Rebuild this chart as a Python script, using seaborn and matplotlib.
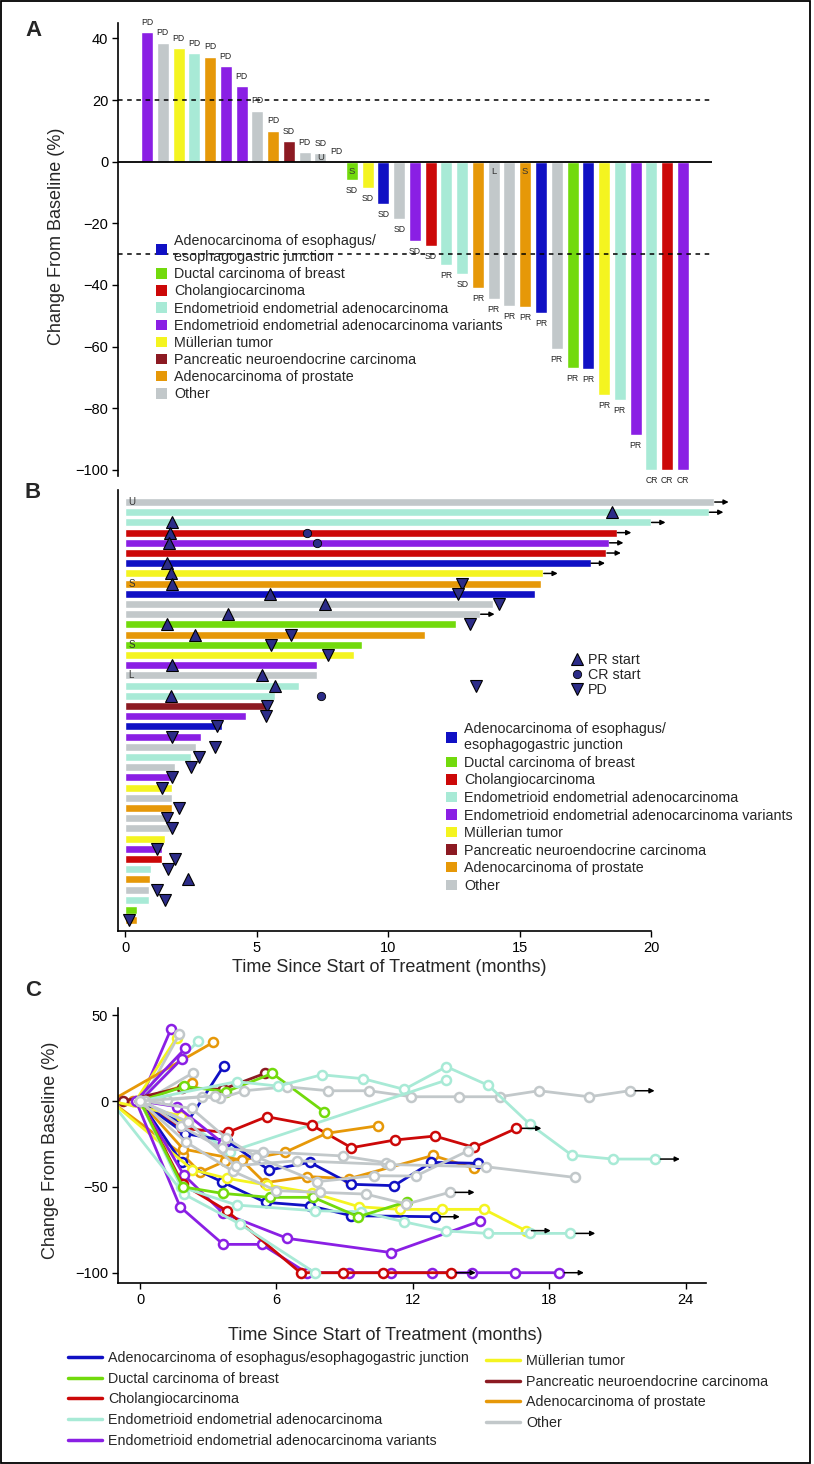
import pandas as pd
import seaborn as sns
import matplotlib.pyplot as plt
from matplotlib.patches import Patch, Rectangle
from matplotlib.lines import Line2D

sns.set_theme(style='white')
plt.rcParams['font.family'] = ['Liberation Sans', 'DejaVu Sans']

# tumour types (codes, names, colours)
cancer_codes = ['B', 'G', 'R', 'T', 'P', 'Y', 'D', 'O', 'X']
cancer_names = ['Adenocarcinoma of esophagus/esophagogastric junction',
                'Ductal carcinoma of breast',
                'Cholangiocarcinoma',
                'Endometrioid endometrial adenocarcinoma',
                'Endometrioid endometrial adenocarcinoma variants',
                'Müllerian tumor',
                'Pancreatic neuroendocrine carcinoma',
                'Adenocarcinoma of prostate',
                'Other']
cancer_colors = ['#1010c4', '#72da0c', '#cc0808', '#a8ead6', '#8a1fe4',
                 '#f4f420', '#8c1a22', '#e69808', '#c2c8ca']
pal = dict(zip(cancer_codes, cancer_colors))

# ---- panel A : waterfall
wf_type = ['P', 'X', 'Y', 'T', 'O', 'P', 'P', 'X', 'O', 'D', 'X', 'X', 'X',
           'G', 'Y', 'B', 'X', 'P', 'R', 'T', 'T', 'O', 'X', 'X', 'O', 'B',
           'X', 'G', 'B', 'Y', 'T', 'P', 'T', 'R', 'P']
wf_change = [42.0, 38.6, 36.9, 35.2, 34.1, 31.0, 24.5, 16.6, 10.1, 6.6, 3.1,
             2.8, 0.0, -6.0, -8.7, -13.6, -18.6, -25.7, -27.3, -33.4, -36.4,
             -41.1, -44.5, -46.7, -47.3, -49.2, -60.8, -67.0, -67.3, -75.8,
             -77.2, -88.8, -100, -100, -100]
wf_resp = ['PD'] * 9 + ['SD', 'PD', 'SD', 'PD'] + ['SD'] * 6 + \
          ['PR', 'SD'] + ['PR'] * 11 + ['CR'] * 3
wf_tag_pos = [11, 13, 22, 24]
wf_tag = ['U', 'S', 'L', 'S']

# ---- panel B : swimmer
sw_type = ['X', 'T', 'T', 'R', 'P', 'R', 'B', 'Y', 'O', 'B', 'X', 'X', 'G',
           'O', 'G', 'Y', 'P', 'X', 'T', 'T', 'D', 'P', 'B', 'P', 'X', 'T',
           'X', 'P', 'Y', 'X', 'O', 'X', 'X', 'Y', 'P', 'R', 'T', 'O', 'X',
           'T', 'G', 'O']
sw_months = [22.4, 22.2, 20.0, 18.7, 18.4, 18.3, 17.7, 15.9, 15.8, 15.6, 14.0,
             13.5, 12.6, 11.4, 9.0, 8.7, 7.3, 7.3, 6.6, 5.7, 5.4, 4.6, 3.7,
             2.9, 2.7, 2.5, 1.9, 1.8, 1.8, 1.8, 1.8, 1.7, 1.7, 1.5, 1.4, 1.4,
             1.0, 0.95, 0.9, 0.9, 0.45, 0.45]
sw_arrow_rows = [0, 1, 2, 3, 4, 5, 6, 7, 11]
sw_tag_rows = [0, 8, 14, 17]
sw_tag = ['U', 'S', 'S', 'L']
pr_rows = [1, 2, 3, 4, 6, 7, 8, 9, 10, 11, 12, 13, 16, 17, 18, 19, 37]
pr_months = [18.5, 1.8, 1.7, 1.67, 1.6, 1.75, 1.8, 5.5, 7.6, 3.9, 1.6, 2.65,
             1.8, 5.2, 5.7, 1.75, 2.4]
cr_rows = [3, 4, 19]
cr_months = [6.9, 7.3, 7.45]
pd_rows = [8, 9, 10, 12, 13, 14, 15, 18, 20, 21, 22, 23, 24, 25, 26, 27, 28,
           30, 31, 32, 34, 35, 36, 38, 39, 41]
pd_months = [12.8, 12.65, 14.2, 13.1, 6.3, 5.55, 7.7, 13.35, 5.4, 5.35, 3.5,
             1.8, 3.4, 2.8, 2.5, 1.8, 1.4, 2.05, 1.6, 1.8, 1.2, 1.9, 1.65,
             1.2, 1.5, 0.15]

# ---- panel C : spider
sp_type = ['P', 'Y', 'X', 'T', 'O', 'P', 'P', 'X', 'O', 'D', 'B', 'G', 'X',
           'T', 'T', 'R', 'O', 'O', 'B', 'B', 'Y', 'Y', 'P', 'P', 'R', 'T',
           'T', 'G', 'P', 'X', 'X', 'X', 'X', 'X']
sp_t = [
    [0, 1.36], [-0.2, 1.61], [0.1, 1.73], [0, 2.56], [-1.3, 3.22],
    [-0.2, 1.99], [0, 1.83], [0.2, 2.34], [-0.3, 2.27],
    [-0.73, 1.83, 3.63, 5.49],
    [0, 2.0, 3.69],
    [0, 1.95, 3.8, 5.82, 8.09],
    [0.1, 1.2, 2.71, 3.52, 4.59, 6.45, 8.28, 10.08, 11.94, 14.02, 15.83, 17.55, 19.75, 21.54],
    [0, 4.25, 6.08, 7.99, 9.82, 11.62, 13.48, 15.33, 17.14, 18.99, 20.81, 22.65],
    [0, 2.0, 3.96, 13.48],
    [0, 1.83, 3.85, 5.57, 7.55, 9.30, 11.21, 12.97, 14.7, 16.56],
    [-1.3, 1.9, 2.64, 3.74, 4.47, 6.37, 8.21, 10.48],
    [0, 1.9, 4.47, 5.49, 7.36, 9.2, 12.89, 14.69],
    [0, 1.83, 3.59, 5.52, 7.47, 9.3, 12.97],
    [0, 1.98, 3.81, 5.67, 7.47, 9.3, 11.18, 12.82, 14.87],
    [-1.3, 1.79],
    [-1.3, 2.3, 3.81, 5.57, 7.55, 9.64, 11.43, 13.3, 15.14, 16.97],
    [0, 1.93, 3.66, 6.48, 11.06, 14.97],
    [-0.18, 1.76, 3.66, 5.35, 7.33, 9.2, 11.03, 12.86, 14.62, 16.51, 18.43],
    [0, 1.88, 3.81, 7.06, 8.94, 10.7, 13.67],
    [-1.3, 1.93, 4.4, 7.69],
    [0, 1.8, 4.25, 7.69, 9.74, 11.6, 13.48, 15.31, 17.14, 18.93],
    [0, 1.88, 3.63, 5.71, 7.62, 9.6, 11.75],
    [0, 1.64, 3.66],
    [0.2, 1.8, 3.6, 5.4, 8.94, 10.84],
    [0, 2.0, 4.1, 6.0, 7.91, 9.93, 11.72, 13.62],
    [0.2, 2.27, 3.8, 5.1, 7.77, 10.29, 12.13, 14.43],
    [0, 2.1, 4.2, 6.9, 11.0, 15.24, 19.13],
    [0, 3.3],
]
sp_v = [
    [0, 41.9], [0, 36.9], [0, 38.8], [0, 35.0], [0, 34.2],
    [0, 30.7], [0, 24.5], [0, 16.5], [0, 10.3],
    [0, 7.8, 6.8, 16.1],
    [0, -14.0, 20.6],
    [0, 8.5, 5.5, 16.1, -6.2],
    [0, 0.6, 2.5, 1.5, 6.0, 8.3, 6.0, 6.0, 2.5, 2.5, 2.5, 6.0, 2.5, 6.0],
    [0, 11.3, 8.7, 15.3, 13.0, 6.8, 20.0, 9.1, -13.4, -31.5, -33.8, -33.8],
    [0, -12.0, -29.5, 12.2],
    [0, -15.9, -18.3, -9.1, -14.0, -27.2, -22.7, -20.4, -27.0, -15.9],
    [0, -31.5, -41.5, -35.0, -34.4, -29.9, -18.8, -14.4],
    [0, -28.0, -34.4, -47.6, -44.0, -45.2, -31.7, -39.2],
    [0, -35.7, -47.0, -59.0, -61.0, -66.8, -67.4],
    [0, -19.0, -23.1, -40.2, -35.7, -48.5, -49.3, -35.7, -36.3],
    [0, -8.5],
    [0, -40.0, -45.0, -48.9, -53.4, -61.6, -63.1, -63.1, -63.1, -75.5],
    [0, -43.1, -65.4, -80.0, -88.3, -69.9],
    [0, -61.6, -83.5, -83.5, -100, -100, -100, -100, -100, -100, -100],
    [0, -48.5, -63.9, -100, -100, -100, -100],
    [0, -54.2, -71.7, -100],
    [0, -50.0, -60.6, -63.9, -64.5, -70.3, -75.7, -77.1, -77.1, -77.1],
    [0, -50.0, -53.8, -56.1, -56.1, -67.4, -58.6],
    [0, -3.3, -24.7],
    [0, -14.6, -27.6, -29.5, -32.0, -36.0],
    [0, -23.7, -41.0, -52.2, -53.2, -54.2, -60.0, -53.2],
    [0, -4.3, -21.7, -32.4, -47.0, -43.5, -43.7, -29.0],
    [0, -12.0, -37.7, -34.8, -37.0, -38.3, -44.5],
    [0, 3.1],
]
sp_arrow = [12, 13, 15, 18, 21, 23, 24, 26, 30]

W, H = 814, 1464


def box(x0, y0, x1, y1):
    return [x0 / W, 1 - y1 / H, (x1 - x0) / W, (y1 - y0) / H]


fig = plt.figure(figsize=(W / 100, H / 100), dpi=100)
tick_fs = 10.5
lab_fs = 13
leg_fs = 10.3
navy = '#2c2c88'

# ================= A
axA = fig.add_axes(box(118, 23, 712, 476))
dfA = pd.DataFrame({'pos': range(len(wf_change)), 'change': wf_change, 'type': wf_type})
sns.barplot(data=dfA, x='pos', y='change', hue='type', palette=pal, dodge=False,
            width=0.76, saturation=1, errorbar=None, legend=False, ax=axA)
axA.axhline(0, color='black', lw=1.3)
axA.axhline(20, color='black', lw=1.1, ls=(0, (3, 3)))
axA.axhline(-30, color='black', lw=1.1, ls=(0, (3, 3)))
for i, (v, r) in enumerate(zip(wf_change, wf_resp)):
    y = v + 3.2 if v >= 0 else v - 3.4
    axA.text(i, y, r, ha='center', va='center', fontsize=6.2, color='#222222')
for i, t in zip(wf_tag_pos, wf_tag):
    y = 1.4 if wf_change[i] > 0 else -3.2
    axA.text(i, y, t, ha='center', va='center', fontsize=6.8, color='#333333')
axA.set_xlim(-1.84, 35.85)
axA.set_ylim(-102, 45)
axA.set_yticks(range(-100, 41, 20))
axA.set_xticks([])
axA.set_xlabel('')
axA.set_ylabel('Change From Baseline (%)', fontsize=lab_fs)
axA.yaxis.set_label_coords(-0.09, 0.53)
for s in ['top', 'right', 'bottom']:
    axA.spines[s].set_visible(False)

cat_handles = [Patch(facecolor=c, edgecolor='none') for c in cancer_colors]
cat_labels = ['Adenocarcinoma of esophagus/\nesophagogastric junction'] + cancer_names[1:]
fig.legend(cat_handles, cat_labels, loc='upper left',
           bbox_to_anchor=(156 / W, 1 - 234 / H), frameon=False,
           fontsize=leg_fs, handlelength=0.75, handleheight=0.75,
           handletextpad=0.5, labelspacing=0.22, borderpad=0, borderaxespad=0)

# ================= B
axB = fig.add_axes(box(118, 490, 730, 931))
dfB = pd.DataFrame({'row': range(len(sw_months)), 'months': sw_months, 'type': sw_type})
sns.barplot(data=dfB, x='months', y='row', hue='type', palette=pal, dodge=False,
            orient='y', width=0.78, saturation=1, errorbar=None, legend=False, ax=axB)
for r in sw_arrow_rows:
    axB.annotate('', xy=(sw_months[r] + 0.55, r), xytext=(sw_months[r] + 0.02, r),
                 arrowprops=dict(arrowstyle='-|>', color='black', lw=1.1,
                                 mutation_scale=7, shrinkA=0, shrinkB=0))
for r, t in zip(sw_tag_rows, sw_tag):
    axB.text(0.12, r, t, ha='left', va='center', fontsize=7, color='#333333')
axB.plot(pr_months, pr_rows, ls='none', marker='^', ms=8, color=navy, mec='black', mew=0.8)
axB.plot(cr_months, cr_rows, ls='none', marker='o', ms=6, color=navy, mec='black', mew=0.6)
axB.plot(pd_months, pd_rows, ls='none', marker='v', ms=8, color=navy, mec='black', mew=0.8)
axB.set_xlim(-0.27, 23.0)
axB.set_ylim(42.06, -1.18)
axB.set_yticks([])
axB.set_ylabel('')
axB.set_xticks([0, 5, 10, 15, 20])
axB.spines['bottom'].set_bounds(-0.27, 20)
axB.set_xlabel('Time Since Start of Treatment (months)', fontsize=lab_fs)
axB.xaxis.set_label_coords(0.444, -0.064)
for s in ['top', 'right']:
    axB.spines[s].set_visible(False)

ev_handles = [Line2D([], [], ls='none', marker='^', ms=8, color=navy, mec='black', mew=0.8),
              Line2D([], [], ls='none', marker='o', ms=6, color=navy, mec='black', mew=0.6),
              Line2D([], [], ls='none', marker='v', ms=8, color=navy, mec='black', mew=0.8)]
fig.legend(ev_handles, ['PR start', 'CR start', 'PD'], loc='upper left',
           bbox_to_anchor=(571 / W, 1 - 653 / H), frameon=False, fontsize=leg_fs,
           handlelength=0.9, handletextpad=0.3, labelspacing=0.08, borderpad=0,
           borderaxespad=0)
fig.legend(cat_handles, cat_labels, loc='upper left',
           bbox_to_anchor=(446 / W, 1 - 722 / H), frameon=False,
           fontsize=leg_fs, handlelength=0.75, handleheight=0.75,
           handletextpad=0.5, labelspacing=0.25, borderpad=0, borderaxespad=0)

# ================= C
axC = fig.add_axes(box(118, 1008, 706, 1283))
rows = []
for pid, (tp, ts, vs) in enumerate(zip(sp_type, sp_t, sp_v)):
    for t, v in zip(ts, vs):
        rows.append({'pid': pid, 'type': tp, 't': t, 'v': v})
dfC = pd.DataFrame(rows)
for pid, g in dfC.groupby('pid', sort=False):
    col = pal[g['type'].iloc[0]]
    sns.lineplot(data=g, x='t', y='v', sort=False, estimator=None, color=col,
                 lw=2, marker='o', ms=6.5, mfc='white', mec=col, mew=1.8, ax=axC)
for pid in sp_arrow:
    t, v = sp_t[pid][-1], sp_v[pid][-1]
    axC.annotate('', xy=(t + 1.1, v), xytext=(t + 0.25, v),
                 arrowprops=dict(arrowstyle='-|>', color='black', lw=1.1,
                                 mutation_scale=7, shrinkA=0, shrinkB=0))
axC.set_xlim(-0.97, 24.9)
axC.set_ylim(-106.0, 54.2)
axC.set_xticks([0, 6, 12, 18, 24])
axC.set_yticks([-100, -50, 0, 50])
axC.set_xlabel('Time Since Start of Treatment (months)', fontsize=lab_fs)
axC.xaxis.set_label_coords(0.454, -0.16)
axC.set_ylabel('Change From Baseline (%)', fontsize=lab_fs)
axC.yaxis.set_label_coords(-0.10, 0.484)
for s in ['top', 'right']:
    axC.spines[s].set_visible(False)

line_handles = [Line2D([], [], color=c, lw=2.5) for c in cancer_colors]
fig.legend(line_handles[:5], cancer_names[:5], loc='upper left',
           bbox_to_anchor=(68 / W, 1 - 1351 / H), frameon=False, fontsize=leg_fs,
           handlelength=2.4, handletextpad=0.4, labelspacing=0.47, borderpad=0,
           borderaxespad=0)
fig.legend(line_handles[5:], cancer_names[5:], loc='upper left',
           bbox_to_anchor=(486 / W, 1 - 1354 / H), frameon=False, fontsize=leg_fs,
           handlelength=2.4, handletextpad=0.4, labelspacing=0.47, borderpad=0,
           borderaxespad=0)

for ax in [axA, axB, axC]:
    ax.tick_params(axis='both', which='both', direction='out', length=4, width=1,
                   labelsize=tick_fs, colors='black', left=True, bottom=True, pad=3)
    for s in ax.spines.values():
        s.set_color('black')
        s.set_linewidth(1.2)
axA.tick_params(axis='x', bottom=False)
axB.tick_params(axis='y', left=False)

for lab, y in [('A', 30), ('B', 492), ('C', 990)]:
    fig.text(25 / W, 1 - y / H, lab, fontsize=16, fontweight='bold', va='center', ha='left')
fig.add_artist(Rectangle((0.0012, 0.0008), 809 / W, 0.9985, transform=fig.transFigure,
                         fill=False, ec='black', lw=1.3))

fig.savefig('out.png', dpi=100)
